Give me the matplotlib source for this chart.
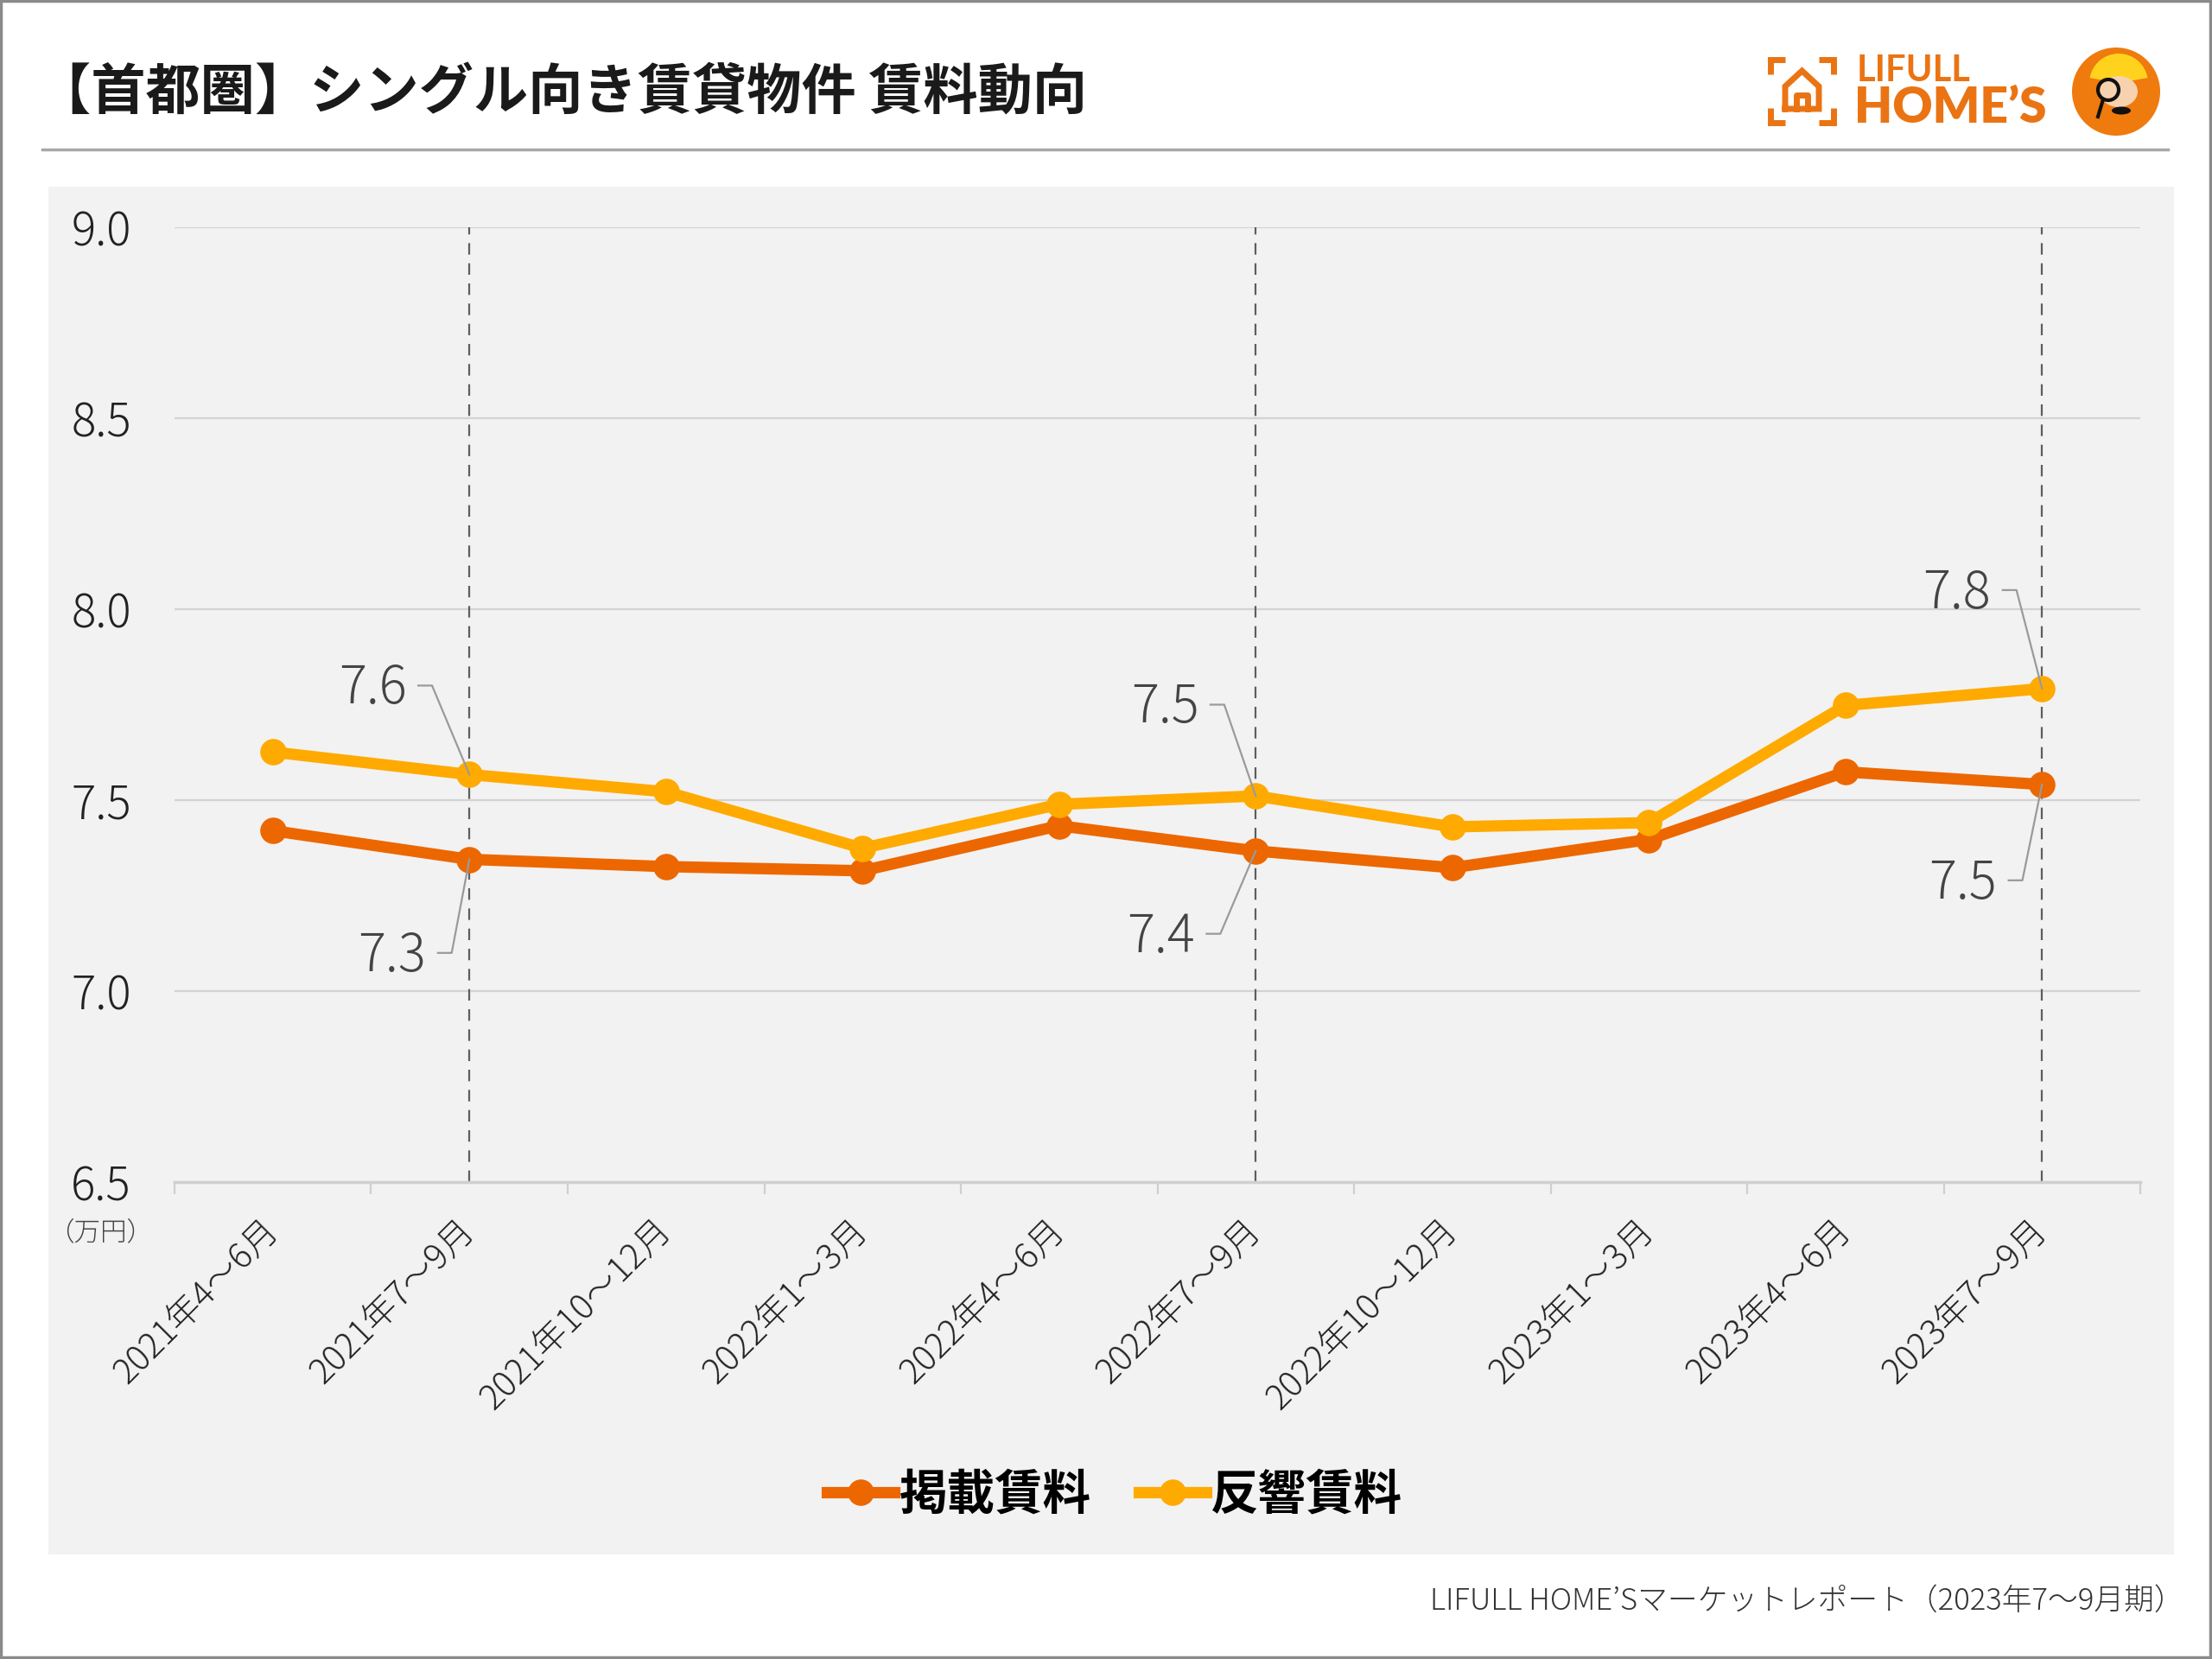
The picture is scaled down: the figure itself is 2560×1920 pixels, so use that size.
import numpy as np
import matplotlib
matplotlib.use("Agg")
import matplotlib.pyplot as plt
from matplotlib.lines import Line2D
from matplotlib.patches import Rectangle, Circle, Wedge, Ellipse

plt.rcParams['font.family'] = ['Noto Sans CJK JP', 'DejaVu Sans']

# data (万円)
periods = ['2021年4〜6月', '2021年7〜9月', '2021年10〜12月', '2022年1〜3月',
           '2022年4〜6月', '2022年7〜9月', '2022年10〜12月', '2023年1〜3月',
           '2023年4〜6月', '2023年7〜9月']
listing_rent = [7.42, 7.345, 7.326, 7.315, 7.433, 7.367, 7.323, 7.397, 7.574, 7.541]
response_rent = [7.626, 7.567, 7.522, 7.374, 7.489, 7.511, 7.430, 7.441, 7.748, 7.792]
series_names = ['掲載賃料', '反響賃料']
y_ticks = [6.5, 7.0, 7.5, 8.0, 8.5, 9.0]
marked = [1, 5, 9]  # periods with a dashed line and value labels

# label layout: x offset (categories) and label height for each marked point
resp_dx = [-0.32, -0.29, -0.26]
resp_ly = [7.79, 7.74, 8.04]
list_dx = [-0.22, -0.31, -0.23]
list_ly = [7.09, 7.14, 7.28]

c_list = '#EC6700'
c_resp = '#FFAA00'
c_logo = '#EA7413'

fig = plt.figure(figsize=(25.6, 19.2), dpi=100)

# overlay in pixel coords for background, header, logo and footer
bg = fig.add_axes([0, 0, 1, 1], zorder=-5)
bg.set_xlim(0, 2560)
bg.set_ylim(1920, 0)
bg.axis('off')
bg.add_patch(Rectangle((1, 1), 2557, 1917, fill=False, ec='#8a8a8a', lw=2.5))
bg.add_patch(Rectangle((56, 216), 2460, 1583, fc='#f2f2f2', ec='none'))
bg.plot([49, 2509], [173, 173], color='#a8a8a8', lw=2.5)
bg.text(42, 108, '【首都圏】シングル向き賃貸物件 賃料動向', fontsize=45.5,
        fontweight='bold', color='#1a1a1a', ha='left', va='center')
bg.text(2528, 1853, 'LIFULL HOME’Sマーケットレポート（2023年7〜9月期）',
        fontsize=25, fontweight='light', color='#333333', ha='right', va='center')
bg.text(116, 1426, '（万円）', fontsize=22, fontweight='light', color='#444444',
        ha='center', va='center')

# logo: bracket frame + house
lw_logo = 5
for (x0, y0, sx, sy) in [(2049, 69, 1, 1), (2122, 69, -1, 1),
                         (2049, 142, 1, -1), (2122, 142, -1, -1)]:
    bg.plot([x0 + sx * 17, x0, x0], [y0, y0, y0 + sy * 17], color=c_logo,
            lw=lw_logo, solid_capstyle='butt', solid_joinstyle='miter')
bg.plot([2066, 2066, 2085.5, 2105, 2105, 2066], [126, 100, 82, 100, 126, 126],
        color=c_logo, lw=lw_logo, solid_joinstyle='miter')
bg.plot([2079, 2079, 2092, 2092], [126, 110, 110, 126], color=c_logo, lw=lw_logo)
bg.text(2149, 82, 'LIFULL', fontsize=30, fontweight='bold', family='Lato',
        color=c_logo, ha='left', va='center')
bg.text(2146, 125, 'HOME’S', fontsize=41, fontweight='heavy', family='Lato',
        color=c_logo, ha='left', va='center')
bg.add_patch(Circle((2449, 106), 51, fc='#EF7A0E', ec='none'))
bg.add_patch(Wedge((2452, 96), 34, 190, 350, fc='#FFD21E', ec='none'))
bg.add_patch(Ellipse((2452, 106), 44, 36, fc='#F6D2AE', ec='none'))
bg.add_patch(Circle((2440, 104), 12, fill=False, ec='#111111', lw=3))
bg.plot([2434, 2428], [115, 135], color='#111111', lw=3)
bg.add_patch(Ellipse((2455, 128), 22, 9, fc='#111111', ec='none'))

# chart
ax = fig.add_axes([0.0789, 0.2875, 0.8887, 0.5755])
ax.set_facecolor('none')
x = np.arange(len(periods))

for yt in y_ticks[1:]:
    ax.axhline(yt, color='#d3d3d3', lw=1.6, zorder=1)
for i in marked:
    ax.axvline(i, color='#5e5e5e', lw=1.6, dashes=(6, 4.5), zorder=2)

ax.plot(x, listing_rent, color=c_list, lw=9.5, marker='o', markersize=21,
        solid_joinstyle='round', zorder=4)
ax.plot(x, response_rent, color=c_resp, lw=9.5, marker='o', markersize=21,
        solid_joinstyle='round', zorder=5)

# value labels with leader lines
def label(i, val, dx, ly):
    ax.text(i + dx, ly, f'{val:.1f}', fontsize=43, fontweight='light',
            color='#444444', ha='right', va='center', zorder=6)
    ax.plot([i + dx + 0.06, i + dx + 0.13, i], [ly + 0.01, ly + 0.01, val],
            color='#9a9a9a', lw=1.6, zorder=6)

for k, i in enumerate(marked):
    label(i, response_rent[i], resp_dx[k], resp_ly[k])
    label(i, listing_rent[i], list_dx[k], list_ly[k])

ax.set_xlim(-0.5, len(periods) - 0.5)
ax.set_ylim(6.5, 9.0)
ax.set_yticks(y_ticks)
ax.set_yticklabels([f'{v:.1f}' for v in y_ticks], fontsize=38,
                   fontweight='light', color='#222222')
ax.tick_params(axis='y', length=0, pad=36)
ax.set_xticks(x)
ax.set_xticklabels(periods, rotation=45, ha='right', va='center',
                   rotation_mode='anchor', fontsize=29, fontweight='light',
                   color='#222222')
ax.set_xticks(np.arange(-0.5, len(periods)), minor=True)
ax.tick_params(axis='x', which='major', length=0, pad=36)
ax.tick_params(axis='x', which='minor', length=10, width=1.6, color='#cfcfcf')
for s in ['top', 'left', 'right']:
    ax.spines[s].set_visible(False)
ax.spines['bottom'].set_color('#cfcfcf')
ax.spines['bottom'].set_linewidth(2.5)

handles = [Line2D([], [], color=c_list, lw=9.5, marker='o', markersize=21),
           Line2D([], [], color=c_resp, lw=9.5, marker='o', markersize=21)]
fig.legend(handles, series_names, loc='center', bbox_to_anchor=(0.504, 0.0985),
           ncol=2, frameon=False, handlelength=1.4, handletextpad=0.1,
           columnspacing=1.0, prop={'size': 40, 'weight': 'bold'})

fig.savefig('out.png', dpi=100)
